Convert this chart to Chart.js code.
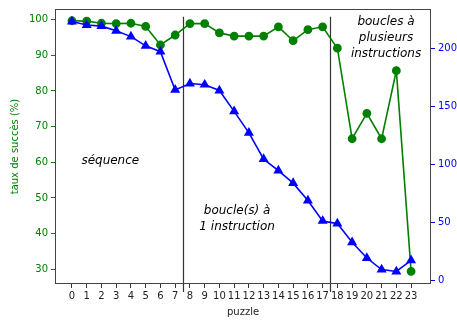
<!DOCTYPE html>
<html>
<head>
<meta charset="utf-8">
<script src="https://cdn.jsdelivr.net/npm/chart.js@4"></script>
<style>
  html, body { margin: 0; padding: 0; background: #fff; }
  #c { display: block; }
</style>
</head>
<body>
<canvas id="c" width="457" height="320"></canvas>
<script>
// données
const puzzles = [0,1,2,3,4,5,6,7,8,9,10,11,12,13,14,15,16,17,18,19,20,21,22,23];
const tauxSucces = [99.7,99.6,99,98.9,99,98.1,92.9,95.7,98.9,98.9,96.3,95.4,95.4,95.4,98,94.1,97.2,98,92,66.6,73.7,66.6,85.7,29.4];
const nbJoueurs = [223,220,219,215,210,202,197,164,169.5,168.5,163.5,145.5,127,104.3,94.4,83.6,68.6,51,48.7,32.6,19,9.1,7.4,17];
const leftTicks = [30,40,50,60,70,80,90,100];
const rightTicks = [0,50,100,150,200];
const separateurs = [7.5, 17.5];
const annotations = [
    { x: 2.6, y: 60.4, lines: ['séquence'] },
    { x: 11.2, y: 44.1, lines: ['boucle(s) à', '1 instruction'] },
    { x: 21.3, y: 95.0, lines: ['boucles à', 'plusieurs', 'instructions'] }
];

const FONT = 'DejaVu Sans';

const decorPlugin = {
    id: 'decor',
    beforeDatasetsDraw(chart) {
        const ctx = chart.ctx;
        const xs = chart.scales.x, yl = chart.scales.y;
        const a = chart.chartArea;
        ctx.save();
        // lignes de séparation
        ctx.strokeStyle = '#333';
        ctx.lineWidth = 1.2;
        separateurs.forEach(v => {
            const px = Math.round(xs.getPixelForValue(v)) + 0.5;
            ctx.beginPath();
            ctx.moveTo(px, yl.getPixelForValue(100.8));
            ctx.lineTo(px, a.bottom + 8);
            ctx.stroke();
        });
        // textes
        ctx.fillStyle = '#000';
        ctx.font = 'italic 12px ' + FONT;
        ctx.textAlign = 'center';
        ctx.textBaseline = 'middle';
        annotations.forEach(t => {
            const cx = xs.getPixelForValue(t.x);
            const cy = yl.getPixelForValue(t.y);
            const lh = 16;
            const y0 = cy - (t.lines.length - 1) * lh / 2;
            t.lines.forEach((l, i) => ctx.fillText(l, cx, y0 + i * lh));
        });
        ctx.restore();
    },
    afterDraw(chart) {
        const ctx = chart.ctx;
        const a = chart.chartArea;
        ctx.save();
        ctx.strokeStyle = '#444';
        ctx.lineWidth = 1;
        ctx.strokeRect(a.left + 0.5, a.top + 0.5, a.right - a.left - 1, a.bottom - a.top - 1);
        ctx.restore();
    }
};

new Chart(document.getElementById('c').getContext('2d'), {
    type: 'line',
    data: {
        datasets: [
            {
                label: 'nb',
                data: puzzles.map((p, i) => ({ x: p, y: nbJoueurs[i] })),
                yAxisID: 'y2',
                borderColor: '#0000ff',
                backgroundColor: '#0000ff',
                borderWidth: 1.6,
                pointStyle: 'triangle',
                pointRadius: 4.2,
                pointHoverRadius: 4.2,
                tension: 0,
                order: 1
            },
            {
                label: 'taux',
                data: puzzles.map((p, i) => ({ x: p, y: tauxSucces[i] })),
                yAxisID: 'y',
                borderColor: '#008000',
                backgroundColor: '#008000',
                borderWidth: 1.6,
                pointStyle: 'circle',
                pointRadius: 3.6,
                pointHoverRadius: 3.6,
                tension: 0,
                order: 2
            }
        ]
    },
    options: {
        responsive: false,
        animation: false,
        layout: { padding: { top: 5, left: 0, right: 0, bottom: 0 } },
        plugins: {
            legend: { display: false },
            tooltip: { enabled: false }
        },
        scales: {
            x: {
                type: 'linear',
                min: -1.15,
                max: 24.35,
                afterBuildTicks: s => { s.ticks = puzzles.map(v => ({ value: v })); },
                grid: { drawOnChartArea: false, tickLength: 4, tickColor: '#333' },
                border: { display: false },
                ticks: { color: '#222', font: { family: FONT, size: 10 }, padding: 2, maxRotation: 0, autoSkip: false },
                title: { display: true, text: 'puzzle', color: '#222', font: { family: FONT, size: 10 }, padding: { top: 0, bottom: 2 } },
                afterFit: s => { s.height = 36; }
            },
            y: {
                position: 'left',
                min: 25.85,
                max: 103,
                afterBuildTicks: s => { s.ticks = leftTicks.map(v => ({ value: v })); },
                grid: { drawOnChartArea: false, tickLength: 4, tickColor: '#008000' },
                border: { display: false },
                ticks: { color: '#008000', font: { family: FONT, size: 10 }, padding: 3 },
                title: { display: true, text: 'taux de succès (%)', color: '#008000', font: { family: FONT, size: 10 }, padding: { top: 9, bottom: 4 } },
                afterFit: s => { s.width = 55; }
            },
            y2: {
                position: 'right',
                min: -3.4,
                max: 233.8,
                afterBuildTicks: s => { s.ticks = rightTicks.map(v => ({ value: v })); },
                grid: { drawOnChartArea: false, tickLength: 4, tickColor: '#0000ff' },
                border: { display: false },
                ticks: { color: '#0000ff', font: { family: FONT, size: 10 }, padding: 3 },
                afterFit: s => { s.width = 26; }
            }
        }
    },
    plugins: [decorPlugin]
});
</script>
</body>
</html>
